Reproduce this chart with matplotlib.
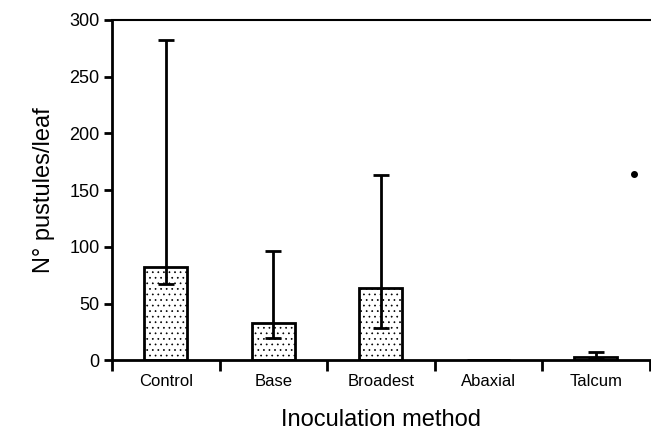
import numpy as np
import matplotlib
matplotlib.use("Agg")
import matplotlib.pyplot as plt

plt.rcParams['font.family'] = ['Liberation Sans', 'DejaVu Sans']
plt.rcParams['hatch.color'] = '#b0b0b0'
plt.rcParams['hatch.linewidth'] = 0.5

methods = ["Control", "Base", "Broadest", "Abaxial", "Talcum"]
means = [82, 33, 64, 0, 3]
err_low = [67, 20, 28, 0, 1]
err_high = [282, 96, 163, 0, 7]
yticks = [0, 50, 100, 150, 200, 250, 300]
# stray speck on the scanned figure
speck_x = [4.35]
speck_y = [164]

fig = plt.figure(figsize=(6.51, 4.34), dpi=100)
ax = fig.add_axes([0.172, 0.170, 0.826, 0.784])

x = np.arange(len(methods))
ax.bar(x, means, width=0.4, color='white', edgecolor='black', linewidth=2,
       hatch='...', zorder=2)

m = np.array(means)
lo = m - np.array(err_low)
hi = np.array(err_high) - m
sel = np.array(err_high) > 0
ax.errorbar(x[sel], m[sel], yerr=[lo[sel], hi[sel]], fmt='none', ecolor='black',
            elinewidth=2, capsize=6, capthick=2, zorder=3)

ax.plot(speck_x, speck_y, 'o', color='black', markersize=4)

ax.set_xlim(-0.5, 4.5)
ax.set_ylim(0, 300)
ax.set_yticks(yticks)
ax.set_xticks(x)
ax.set_xticklabels(methods, fontsize=12)
ax.tick_params(axis='x', length=0, pad=10)
ax.set_xticks(np.arange(-0.5, 5, 1), minor=True)
ax.tick_params(axis='x', which='minor', length=8, width=2, direction='out')
ax.tick_params(axis='y', labelsize=13, length=6, width=2, direction='out', pad=3)

for side in ['left', 'bottom']:
    ax.spines[side].set_linewidth(2)
ax.spines['top'].set_linewidth(1.5)
ax.spines['right'].set_visible(False)

ax.set_ylabel("N° pustules/leaf", fontsize=17, labelpad=10)
ax.set_xlabel("Inoculation method", fontsize=17, labelpad=14)

fig.savefig("out.png", dpi=100)
